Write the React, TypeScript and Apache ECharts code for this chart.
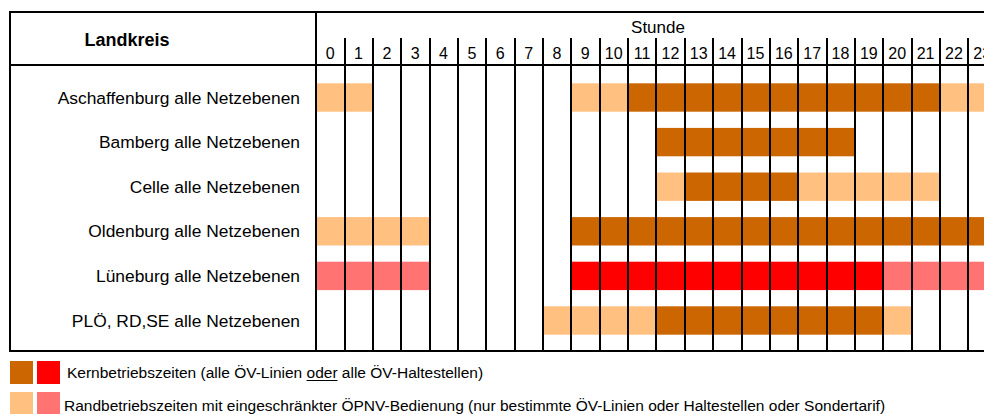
import React, { useEffect, useRef } from "react";
import * as echarts from "echarts";

// Tick labels (hours) and categories (rows)
const hourLabels = ["0", "1", "2", "3", "4", "5", "6", "7", "8", "9", "10", "11", "12", "13", "14", "15", "16", "17", "18", "19", "20", "21", "22", "23"];
const rowLabels = [
  "Aschaffenburg alle Netzebenen",
  "Bamberg alle Netzebenen",
  "Celle alle Netzebenen",
  "Oldenburg alle Netzebenen",
  "Lüneburg alle Netzebenen",
  "PLÖ, RD,SE alle Netzebenen",
];

// 0 = kein Betrieb, 1 = Randbetriebszeit, 2 = Kernbetriebszeit (per hour 0..23)
const aschaffenburg = [1, 1, 0, 0, 0, 0, 0, 0, 0, 1, 1, 2, 2, 2, 2, 2, 2, 2, 2, 2, 2, 2, 1, 1];
const bamberg = [0, 0, 0, 0, 0, 0, 0, 0, 0, 0, 0, 0, 2, 2, 2, 2, 2, 2, 2, 0, 0, 0, 0, 0];
const celle = [0, 0, 0, 0, 0, 0, 0, 0, 0, 0, 0, 0, 1, 2, 2, 2, 2, 1, 1, 1, 1, 1, 0, 0];
const oldenburg = [1, 1, 1, 1, 0, 0, 0, 0, 0, 2, 2, 2, 2, 2, 2, 2, 2, 2, 2, 2, 2, 2, 2, 2];
const lueneburg = [1, 1, 1, 1, 0, 0, 0, 0, 0, 2, 2, 2, 2, 2, 2, 2, 2, 2, 2, 2, 1, 1, 1, 1];
const ploen = [0, 0, 0, 0, 0, 0, 0, 0, 1, 1, 1, 1, 2, 2, 2, 2, 2, 2, 2, 2, 1, 0, 0, 0];

const rowValues = [aschaffenburg, bamberg, celle, oldenburg, lueneburg, ploen];
const rowPalettes = [0, 0, 0, 0, 1, 0]; // 0 = orange, 1 = red

const legendKern = "Kernbetriebszeiten (alle ÖV-Linien oder alle ÖV-Haltestellen)";
const legendKernBeforeUnderline = "Kernbetriebszeiten (alle ÖV-Linien ";
const legendKernUnderlined = "oder";
const legendRand =
  "Randbetriebszeiten mit eingeschränkter ÖPNV-Bedienung (nur bestimmte ÖV-Linien oder Haltestellen oder Sondertarif)";

const PALETTES = [
  ["#FFC080", "#CC6600"],
  ["#FF7373", "#FF0000"],
];
const FONT = "'Liberation Sans', Arial, Helvetica, sans-serif";
const COL = 28.35;
const LEGEND_FONT = `15.5px ${FONT}`;

export default function App() {
  const ref = useRef<HTMLDivElement>(null);

  useEffect(() => {
    document.body.style.margin = "0";
    document.body.style.overflow = "hidden";
    if (!ref.current) return;
    const chart = echarts.init(ref.current, undefined, { renderer: "svg" });

    const data: any[] = [];
    rowValues.forEach((vals, r) => {
      vals.forEach((lvl, h) => {
        if (lvl > 0) data.push({ value: [h, r, lvl, rowPalettes[r]] });
      });
    });

    const ulStart = 67 + echarts.format.getTextRect
      ? 0
      : 0;
    const measure = (t: string) => {
      const c = document.createElement("canvas").getContext("2d");
      if (!c) return t.length * 7;
      c.font = LEGEND_FONT;
      return c.measureText(t).width;
    };
    const ux1 = 67 + measure(legendKernBeforeUnderline) + ulStart;
    const ux2 = ux1 + measure(legendKernUnderlined);

    const line = (x1: number, y1: number, x2: number, y2: number) => ({
      type: "line",
      z: 100,
      shape: { x1, y1, x2, y2 },
      style: { stroke: "#000", lineWidth: 2 },
    });

    const option: any = {
      animation: false,
      grid: [
        { left: 316, top: 38, width: 24 * COL, height: 313, outerBoundsMode: "none", containLabel: false },
        { left: 316, top: 75.2, width: 24 * COL, height: 267.6, outerBoundsMode: "none", containLabel: false },
      ],
      xAxis: [
        {
          type: "value",
          gridIndex: 0,
          min: 0,
          max: 24,
          interval: 1,
          z: 10,
          axisLine: { show: false },
          axisTick: { show: false },
          axisLabel: { show: false },
          splitLine: { show: true, lineStyle: { color: "#000", width: 2 } },
        },
        {
          type: "category",
          gridIndex: 1,
          data: hourLabels,
          position: "top",
          offset: 10.2,
          axisLine: { show: false },
          axisTick: { show: false },
          splitLine: { show: false },
          axisLabel: { color: "#000", fontSize: 16, fontFamily: FONT, margin: 4, interval: 0 },
        },
      ],
      yAxis: [
        { type: "value", gridIndex: 0, min: 0, max: 1, show: false },
        {
          type: "category",
          gridIndex: 1,
          data: rowLabels,
          inverse: true,
          axisLine: { show: false },
          axisTick: { show: false },
          splitLine: { show: false },
          axisLabel: { color: "#000", fontSize: 17.4, fontFamily: FONT, margin: 16 },
        },
      ],
      series: [
        {
          type: "custom",
          xAxisIndex: 1,
          yAxisIndex: 1,
          data,
          renderItem: (_params: any, api: any) => {
            const h = api.value(0);
            const r = api.value(1);
            const lvl = api.value(2);
            const pal = api.value(3);
            const c = api.coord([h, r]);
            const s = api.size([1, 1]);
            const bh = 28.4;
            return {
              type: "rect",
              shape: { x: c[0] - s[0] / 2, y: c[1] - bh / 2, width: s[0], height: bh },
              style: { fill: PALETTES[pal][lvl - 1] },
            };
          },
        },
      ],
      graphic: [
        line(9, 12, 1000, 12),
        line(9, 65, 1000, 65),
        line(9, 351, 1000, 351),
        line(10, 11, 10, 352),
        line(316, 11, 316, 352),
        {
          type: "text",
          z: 100,
          x: 127,
          y: 40,
          style: { text: "Landkreis", fill: "#000", font: `bold 18px ${FONT}`, align: "center", verticalAlign: "middle" },
        },
        {
          type: "text",
          z: 100,
          x: 658,
          y: 27,
          style: { text: "Stunde", fill: "#000", font: `17px ${FONT}`, align: "center", verticalAlign: "middle" },
        },
        { type: "rect", z: 100, shape: { x: 10, y: 361, width: 23, height: 23 }, style: { fill: PALETTES[0][1] } },
        { type: "rect", z: 100, shape: { x: 37, y: 361, width: 23, height: 23 }, style: { fill: PALETTES[1][1] } },
        { type: "rect", z: 100, shape: { x: 10, y: 392, width: 23, height: 23 }, style: { fill: PALETTES[0][0] } },
        { type: "rect", z: 100, shape: { x: 37, y: 392, width: 23, height: 23 }, style: { fill: PALETTES[1][0] } },
        {
          type: "text",
          z: 100,
          x: 67,
          y: 372,
          style: { text: legendKern, fill: "#000", font: LEGEND_FONT, align: "left", verticalAlign: "middle" },
        },
        {
          type: "line",
          z: 100,
          shape: { x1: ux1, y1: 380.5, x2: ux2, y2: 380.5 },
          style: { stroke: "#000", lineWidth: 1 },
        },
        {
          type: "text",
          z: 100,
          x: 64,
          y: 405,
          style: { text: legendRand, fill: "#000", font: LEGEND_FONT, align: "left", verticalAlign: "middle" },
        },
      ],
    };

    chart.setOption(option);
    return () => chart.dispose();
  }, []);

  return (
    <div style={{ width: 984, height: 414, overflow: "hidden", background: "#fff" }}>
      <div ref={ref} style={{ width: 1000, height: 414 }} />
    </div>
  );
}
